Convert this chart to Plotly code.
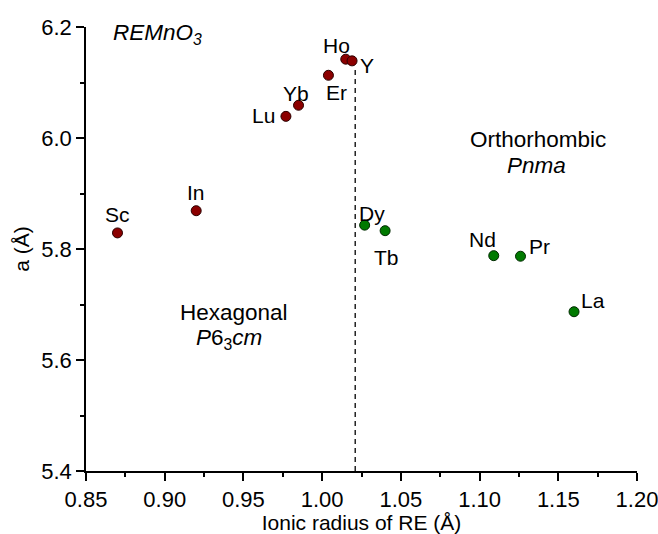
import plotly.graph_objects as go

# ---- data ----
hex_elements = ["Sc", "In", "Lu", "Yb", "Er", "Ho", "Y"]
hex_radius = [0.870, 0.920, 0.977, 0.985, 1.004, 1.015, 1.019]
hex_a = [5.829, 5.869, 6.039, 6.059, 6.113, 6.142, 6.139]

ortho_elements = ["Dy", "Tb", "Nd", "Pr", "La"]
ortho_radius = [1.027, 1.040, 1.109, 1.126, 1.160]
ortho_a = [5.843, 5.833, 5.788, 5.787, 5.687]

boundary_radius = [1.021, 1.021]
boundary_a = [5.40, 6.125]

x_tick_vals = [0.85, 0.90, 0.95, 1.00, 1.05, 1.10, 1.15, 1.20]
y_tick_vals = [5.4, 5.6, 5.8, 6.0, 6.2]

# ---- label pixel offsets (dx right, dy down) ----
label_offsets = {
    "Sc": (0, -18), "In": (0, -18), "Lu": (-22, -1), "Yb": (-3, -12),
    "Er": (8, 17), "Ho": (-9, -14), "Y": (15, 5),
    "Dy": (7, -12), "Tb": (1, 27), "Nd": (-11, -16), "Pr": (19, -10), "La": (19, -11),
}

FONT = "Liberation Sans, Arial, sans-serif"
LABEL_SIZE = 21
REGION_SIZE = 22.5
TICK_SIZE = 22

fig = go.Figure()
fig.add_trace(go.Scatter(
    x=boundary_radius, y=boundary_a, mode="lines",
    line=dict(color="black", width=1.3, dash="5px,4px"), showlegend=False, hoverinfo="skip"))
fig.add_trace(go.Scatter(
    x=hex_radius, y=hex_a, mode="markers",
    marker=dict(size=10, color="#8b0000", line=dict(color="#2a0000", width=1)),
    showlegend=False))
fig.add_trace(go.Scatter(
    x=ortho_radius, y=ortho_a, mode="markers",
    marker=dict(size=10, color="#007a00", line=dict(color="#002a00", width=1)),
    showlegend=False))

annotations = []
for names, xs, ys in ((hex_elements, hex_radius, hex_a), (ortho_elements, ortho_radius, ortho_a)):
    for n, xv, yv in zip(names, xs, ys):
        dx, dy = label_offsets[n]
        annotations.append(dict(x=xv, y=yv, xref="x", yref="y", text=n, showarrow=False,
                                xshift=dx, yshift=-dy,
                                font=dict(size=LABEL_SIZE, color="black", family=FONT)))

region_texts = [
    ("<i>REMnO<sub>3</sub></i>", 0.045, 0.984, "left"),
    ("Hexagonal", 0.268, 0.357, "center"),
    ("<i>P</i>6<sub>3</sub><i>cm</i>", 0.260, 0.298, "center"),
    ("Orthorhombic", 0.820, 0.746, "center"),
    ("<i>Pnma</i>", 0.818, 0.687, "center"),
]
for t, px, py, anchor in region_texts:
    annotations.append(dict(x=px, y=py, xref="paper", yref="paper", text=t, showarrow=False,
                            xanchor=anchor, yanchor="middle",
                            font=dict(size=REGION_SIZE, color="black", family=FONT)))

axis_common = dict(showline=True, linecolor="black", linewidth=1.5, ticks="outside",
                   ticklen=8, tickwidth=1.5, tickcolor="black", showgrid=False, zeroline=False,
                   mirror=False, automargin=False, ticklabeloverflow="allow",
                   tickfont=dict(size=TICK_SIZE, color="black", family=FONT))

fig.update_layout(
    width=658, height=534,
    margin=dict(l=86, r=21, t=27, b=63),
    paper_bgcolor="white", plot_bgcolor="white",
    font=dict(family=FONT, color="black"),
    annotations=annotations,
    xaxis=dict(range=[0.85, 1.20], tickvals=x_tick_vals, tickformat=".2f",
               title=dict(text="Ionic radius of RE (Å)", font=dict(size=LABEL_SIZE, family=FONT), standoff=6),
               minor=dict(dtick=0.025, ticklen=4, tickwidth=1.5, tickcolor="black", ticks="outside"),
               **axis_common),
    yaxis=dict(range=[5.4, 6.2], tickvals=y_tick_vals, tickformat=".1f",
               title=dict(text="a (Å)", font=dict(size=LABEL_SIZE, family=FONT), standoff=6),
               minor=dict(dtick=0.1, ticklen=4, tickwidth=1.5, tickcolor="black", ticks="outside"),
               **axis_common),
)

fig.write_html("out.html")
